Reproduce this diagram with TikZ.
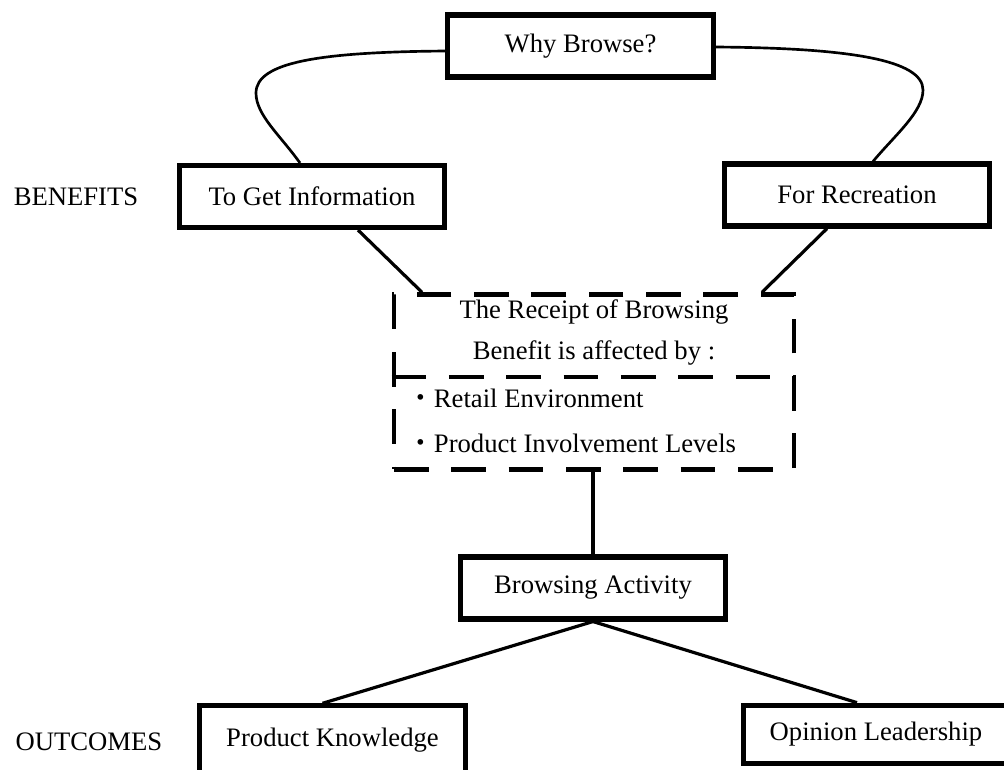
\documentclass[tikz,border=0pt]{standalone}
\usepackage{fontspec}
\setmainfont{Liberation Serif}
\newfontfamily\cjk{Noto Sans CJK JP}
\usetikzlibrary{calc}

\begin{document}
\begin{tikzpicture}[
  x=.75pt, y=-.75pt,
  font=\fontsize{20}{24}\selectfont,
  box/.style={draw, line width=3.8pt, minimum width=199pt,
    minimum height=46.5pt, inner sep=2pt},
  rule/.style={line width=3.6pt, dash pattern=on 26pt off 17pt},
  factors/.style={draw, rule, minimum width=300pt, minimum height=131pt},
  link/.style={draw, line width=2.4pt},
  curveline/.style={draw, line width=2pt},
  side/.style={inner sep=0pt},
  entry/.style={inner sep=0pt, anchor=west}
]
% Pixel grid of the sketch, y running down; page cut at the frame.
\clip (0,0) rectangle (1004,769);

\node[box] (why) at (580.5,46) {Why Browse?};
\node[box] (info) at (312,196.5) {To Get Information};
\node[box] (recr) at (857,195) {For Recreation};
\node[side] (benefits) at (76,197) {BENEFITS};

\node[factors] (receipt) at (594,382) {};
\node (head1) at (594,312) {The Receipt of Browsing};
\node (head2) at (594,353) {Benefit is affected by :};
\coordinate (divider) at (594,377);
\node[entry] (retail) at (407,398) {{\cjk ・}Retail Environment};
\node[entry] (involve) at (407,443) {{\cjk ・}Product Involvement Levels};
\draw[rule] (receipt.west |- divider) -- (receipt.east |- divider);

\node[box] (activity) at (593,588) {Browsing Activity};
\node[box, minimum height=52pt] (know) at (332.5,740.5) {Product Knowledge};
\node[box, minimum height=44pt] (opin) at (876,734.5) {Opinion Leadership};
\node[side] (outcomes) at (89,742) {OUTCOMES};

% Loops from the question out to both benefits.
\draw[curveline] ($(why.west)+(0,5)$) .. controls (320,52) and (256,62) .. (256,93)
  .. controls (256,115) and (280,135) .. ($(info.north)+(-12,0)$);
\draw[curveline] ($(why.east)+(0,1)$) .. controls (850,48) and (923,60) .. (923,90)
  .. controls (923,112) and (895,135) .. ($(recr.north)+(16,0)$);

\draw[link] ($(info.south)+(46,0)$) -- ($(receipt.north)+(-172,0)$);
\draw[link] ($(recr.south)+(-30,0)$) -- ($(receipt.north)+(168,0)$);
\draw[link] (receipt.south -| activity.north) -- (activity.north);
\draw[link] (activity.south) -- ($(know.north)+(-10,0)$);
\draw[link] (activity.south) -- ($(opin.north)+(-19,0)$);
\end{tikzpicture}
\end{document}
